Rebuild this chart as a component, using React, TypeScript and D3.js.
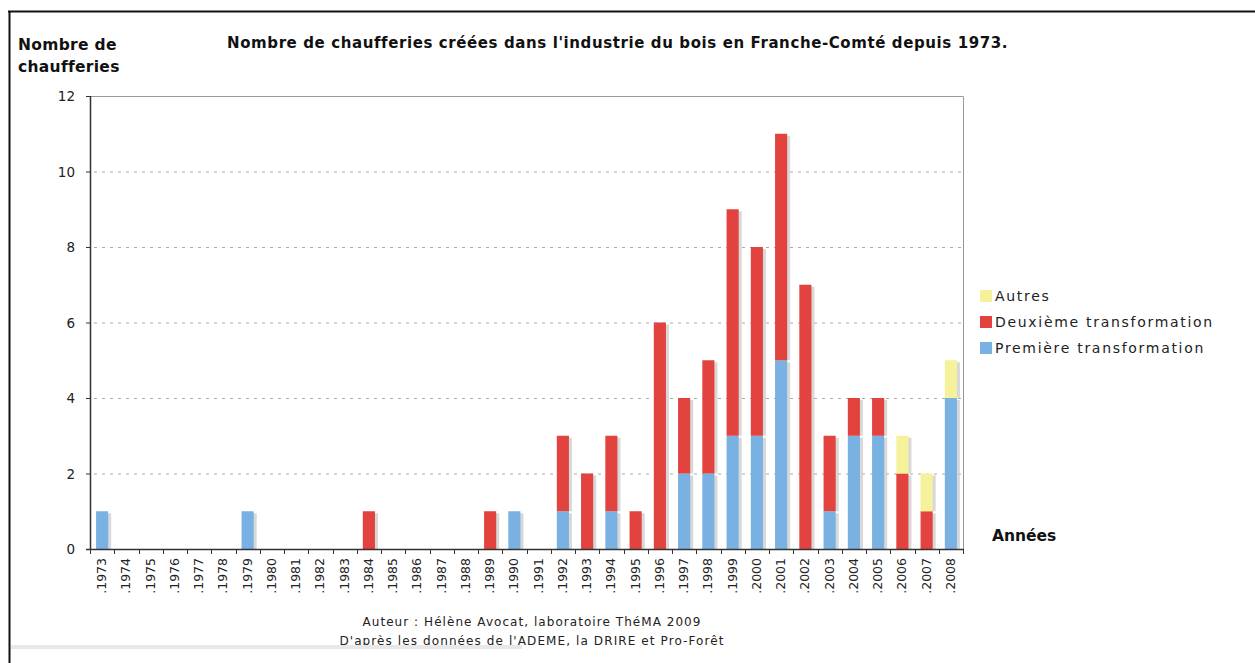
import React, { useRef, useEffect } from 'react';
import * as d3 from 'd3';

const W = 1255;
const H = 663;
const PLOT = { left: 90, right: 963, top: 96, bottom: 549 };

const years = d3.range(1973, 2009).map(String);
// Première transformation
const premiere = [1, 0, 0, 0, 0, 0, 1, 0, 0, 0, 0, 0, 0, 0, 0, 0, 0, 1, 0, 1, 0, 1, 0, 0, 2, 2, 3, 3, 5, 0, 1, 3, 3, 0, 0, 4];
// Deuxième transformation
const deuxieme = [0, 0, 0, 0, 0, 0, 0, 0, 0, 0, 0, 1, 0, 0, 0, 0, 1, 0, 0, 2, 2, 2, 1, 6, 2, 3, 6, 5, 6, 7, 2, 1, 1, 2, 1, 0];
// Autres
const autres = [0, 0, 0, 0, 0, 0, 0, 0, 0, 0, 0, 0, 0, 0, 0, 0, 0, 0, 0, 0, 0, 0, 0, 0, 0, 0, 0, 0, 0, 0, 0, 0, 0, 1, 1, 1];

const yTicks = [0, 2, 4, 6, 8, 10, 12];
const seriesKeys = ['premiere', 'deuxieme', 'autres'];
const seriesColors = { premiere: '#79b2e2', deuxieme: '#e2433f', autres: '#f6f29c' };
const legendItems = [
  { key: 'autres', label: 'Autres' },
  { key: 'deuxieme', label: 'Deuxième transformation' },
  { key: 'premiere', label: 'Première transformation' },
];

const FONT = '"DejaVu Sans", Verdana, sans-serif';

export default function App() {
  const svgRef = useRef<SVGSVGElement>(null);

  useEffect(() => {
    const svg = d3.select(svgRef.current);
    svg.selectAll('*').remove();

    const rows = years.map((y, i) => ({ year: y, premiere: premiere[i], deuxieme: deuxieme[i], autres: autres[i] }));
    const stacked = d3.stack().keys(seriesKeys)(rows as any);

    const x = d3.scaleBand().domain(years).range([PLOT.left, PLOT.right]).paddingInner(0.5).paddingOuter(0.25);
    const y = d3.scaleLinear().domain([0, 12]).range([PLOT.bottom, PLOT.top]);
    const step = x.step();
    const bw = x.bandwidth();
    const bandStart = (d: string) => (x(d) as number) - (step - bw) / 2;

    // frame
    svg.append('line').attr('x1', 8).attr('x2', W).attr('y1', 11.5).attr('y2', 11.5)
      .attr('stroke', '#111').attr('stroke-width', 2);
    svg.append('line').attr('x1', 9.5).attr('x2', 9.5).attr('y1', 11).attr('y2', H)
      .attr('stroke', '#111').attr('stroke-width', 2);

    // title
    svg.append('text').attr('x', 227).attr('y', 48)
      .attr('font-family', FONT).attr('font-weight', 'bold').attr('font-size', 15).attr('letter-spacing', 0.6)
      .attr('fill', '#111')
      .text("Nombre de chaufferies créées dans l'industrie du bois en Franche-Comté depuis 1973.");

    // y title
    const yt = svg.append('text').attr('font-family', FONT).attr('font-weight', 'bold')
      .attr('font-size', 15.5).attr('letter-spacing', 0.3).attr('fill', '#111');
    yt.append('tspan').attr('x', 18).attr('y', 50).text('Nombre de');
    yt.append('tspan').attr('x', 18).attr('y', 72).text('chaufferies');

    // grid
    svg.append('g').selectAll('line').data(yTicks.filter(t => t > 0 && t < 12)).join('line')
      .attr('x1', PLOT.left + 4).attr('x2', PLOT.right)
      .attr('y1', d => y(d) + 0.5).attr('y2', d => y(d) + 0.5)
      .attr('stroke', '#aaa').attr('stroke-width', 1).attr('stroke-dasharray', '3,5');

    // plot border top/right
    svg.append('path')
      .attr('d', `M${PLOT.left},${PLOT.top + 0.5}H${PLOT.right + 0.5}V${PLOT.bottom}`)
      .attr('fill', 'none').attr('stroke', '#999').attr('stroke-width', 1);

    // bars
    const gBars = svg.append('g');
    stacked.forEach(s => {
      gBars.append('g').selectAll('rect').data(s.filter(d => d[1] - d[0] > 0)).join('rect')
        .attr('x', d => (x(d.data.year as any) as number) + 3)
        .attr('y', d => y(d[1]) + 2)
        .attr('width', bw)
        .attr('height', d => y(d[0]) - y(d[1]) - 2)
        .attr('fill', '#c8c8c8').attr('opacity', 0.7);
    });
    stacked.forEach(s => {
      const key = s.key as keyof typeof seriesColors;
      gBars.append('g').selectAll('rect').data(s.filter(d => d[1] - d[0] > 0)).join('rect')
        .attr('x', d => x(d.data.year as any) as number)
        .attr('y', d => y(d[1]))
        .attr('width', bw)
        .attr('height', d => y(d[0]) - y(d[1]))
        .attr('fill', seriesColors[key]);
    });

    // y axis
    const gy = svg.append('g');
    gy.append('line').attr('x1', PLOT.left + 0.5).attr('x2', PLOT.left + 0.5)
      .attr('y1', PLOT.top).attr('y2', PLOT.bottom + 1).attr('stroke', '#333').attr('stroke-width', 1.5);
    gy.selectAll('line.t').data(yTicks).join('line').attr('class', 't')
      .attr('x1', PLOT.left - 4).attr('x2', PLOT.left)
      .attr('y1', d => y(d) + 0.5).attr('y2', d => y(d) + 0.5)
      .attr('stroke', '#333');
    gy.selectAll('text').data(yTicks).join('text')
      .attr('x', 75).attr('y', d => y(d) + 5)
      .attr('text-anchor', 'end').attr('font-family', FONT).attr('font-size', 13.5).attr('fill', '#222')
      .text(d => d);

    // x axis
    const gx = svg.append('g');
    gx.append('line').attr('x1', PLOT.left - 4).attr('x2', PLOT.right + 1)
      .attr('y1', PLOT.bottom + 0.5).attr('y2', PLOT.bottom + 0.5).attr('stroke', '#333').attr('stroke-width', 1.5);
    gx.selectAll('line.t').data([...years.map(bandStart), PLOT.right]).join('line').attr('class', 't')
      .attr('x1', d => Math.round(d) + 0.5).attr('x2', d => Math.round(d) + 0.5)
      .attr('y1', PLOT.bottom).attr('y2', PLOT.bottom + 5)
      .attr('stroke', '#333');
    gx.selectAll('text').data(years).join('text')
      .attr('transform', d => `translate(${(x(d) as number) + bw / 2 + 4},558) rotate(-90)`)
      .attr('text-anchor', 'end').attr('font-family', FONT).attr('font-size', 12.5).attr('fill', '#222')
      .text(d => '.' + d);

    // x title
    svg.append('text').attr('x', 992).attr('y', 541)
      .attr('font-family', FONT).attr('font-weight', 'bold').attr('font-size', 15.5).attr('fill', '#111')
      .text('Années');

    // legend
    const gl = svg.append('g');
    legendItems.forEach((it, i) => {
      const cy = 296 + i * 26;
      gl.append('rect').attr('x', 980).attr('y', cy - 6).attr('width', 12).attr('height', 12)
        .attr('fill', seriesColors[it.key as keyof typeof seriesColors]);
      gl.append('text').attr('x', 995).attr('y', cy + 5)
        .attr('font-family', FONT).attr('font-size', 14).attr('letter-spacing', 1.7).attr('fill', '#222')
        .text(it.label);
    });

    // footer
    svg.append('text').attr('x', 532).attr('y', 626).attr('text-anchor', 'middle')
      .attr('font-family', FONT).attr('font-size', 12).attr('letter-spacing', 1.05).attr('fill', '#222')
      .text('Auteur : Hélène Avocat, laboratoire ThéMA 2009');
    svg.append('text').attr('x', 532).attr('y', 645).attr('text-anchor', 'middle')
      .attr('font-family', FONT).attr('font-size', 12).attr('letter-spacing', 1.1).attr('fill', '#222')
      .text("D'après les données de l'ADEME, la DRIRE et Pro-Forêt");
    svg.append('rect').attr('x', 11).attr('y', 645).attr('width', 511).attr('height', 4).attr('fill', '#e8e8e8');
  }, []);

  return (
    <div style={{ position: 'absolute', left: 0, top: 0, width: W, height: H, background: '#fff' }}>
      <svg ref={svgRef} width={W} height={H} style={{ display: 'block' }} />
    </div>
  );
}
